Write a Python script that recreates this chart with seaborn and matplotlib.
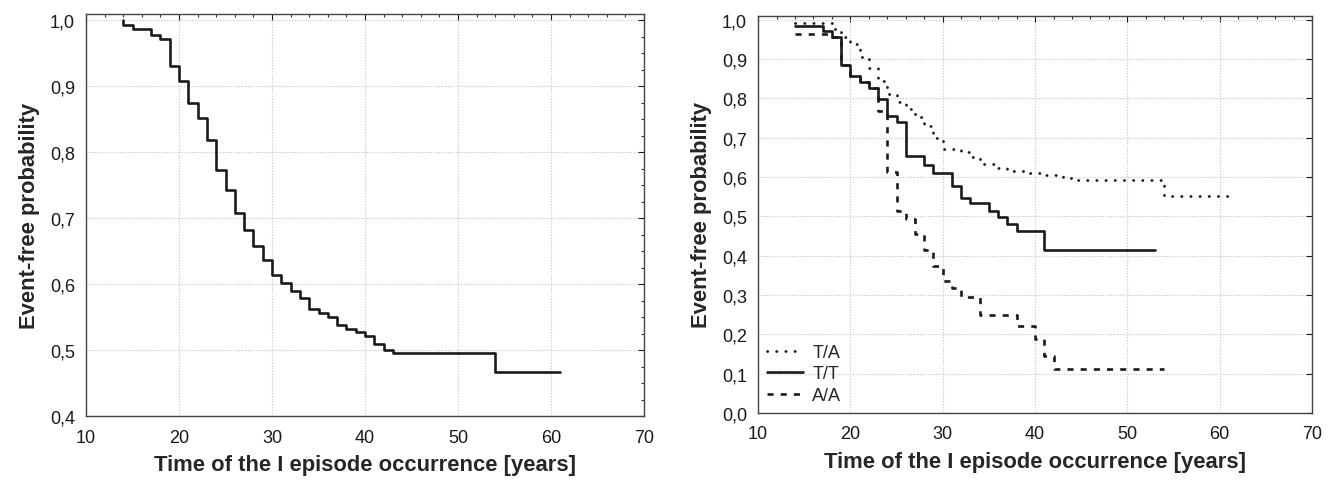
import numpy as np
import pandas as pd
import seaborn as sns
import matplotlib.pyplot as plt
from matplotlib.ticker import MultipleLocator, FuncFormatter

sns.set_theme(style="white")
plt.rcParams['font.family'] = ['Liberation Sans', 'DejaVu Sans']

# ---- data ----
# left panel: whole group
all_time = [14, 14, 15, 17, 18, 19, 20, 21, 22, 23, 24, 25, 26, 27, 28, 29, 30,
            31, 32, 33, 34, 35, 36, 37, 38, 39, 40, 41, 42, 43, 54, 61]
all_surv = [1.0, 0.993, 0.987, 0.978, 0.972, 0.931, 0.908, 0.875, 0.852, 0.819,
            0.773, 0.743, 0.708, 0.683, 0.658, 0.637, 0.614, 0.602, 0.590, 0.579,
            0.563, 0.556, 0.550, 0.539, 0.533, 0.528, 0.522, 0.510, 0.500, 0.496,
            0.467, 0.467]

# right panel: by genotype
ta_time = [14, 18, 19, 20, 21, 22, 23, 24, 25, 26, 27, 28, 29, 30, 32, 33, 34,
           36, 37, 39, 41, 43, 44, 54, 61]
ta_surv = [0.992, 0.976, 0.955, 0.938, 0.905, 0.876, 0.845, 0.811, 0.790, 0.773,
           0.752, 0.730, 0.700, 0.671, 0.664, 0.650, 0.632, 0.624, 0.616, 0.610,
           0.605, 0.597, 0.592, 0.552, 0.552]

tt_time = [14, 17, 18, 19, 20, 21, 22, 23, 24, 25, 26, 28, 29, 31, 32, 33, 35,
           36, 37, 38, 41, 53]
tt_surv = [0.985, 0.972, 0.957, 0.884, 0.856, 0.842, 0.826, 0.798, 0.755, 0.739,
           0.654, 0.630, 0.609, 0.578, 0.547, 0.533, 0.514, 0.497, 0.481, 0.462,
           0.415, 0.415]

aa_time = [14, 18, 19, 20, 21, 22, 23, 24, 25, 26, 27, 28, 29, 30, 31, 32, 34,
           38, 40, 41, 42, 54]
aa_surv = [0.964, 0.957, 0.884, 0.856, 0.842, 0.826, 0.768, 0.612, 0.514, 0.493,
           0.455, 0.415, 0.374, 0.336, 0.317, 0.296, 0.249, 0.220, 0.187, 0.145,
           0.113, 0.113]

xticks = [10, 20, 30, 40, 50, 60, 70]
xlabel = "Time of the I episode occurrence [years]"
ylabel = "Event-free probability"

comma = FuncFormatter(lambda v, p: f"{v:.1f}".replace(".", ","))


def style_axes(ax, ylo, yminor):
    ax.set_xlim(10, 70)
    ax.set_ylim(ylo, 1.01)
    ax.set_xticks(xticks)
    ax.yaxis.set_major_locator(MultipleLocator(0.1))
    ax.yaxis.set_major_formatter(comma)
    ax.xaxis.set_minor_locator(MultipleLocator(2))
    if yminor:
        ax.yaxis.set_minor_locator(MultipleLocator(yminor))
    ax.tick_params(which="both", direction="in", top=True, right=True,
                   color="#333333", width=0.8)
    ax.tick_params(which="major", length=4, labelsize=13, colors="#1a1a1a")
    ax.tick_params(axis="x", which="major", pad=9)
    ax.tick_params(axis="y", which="major", pad=8)
    ax.tick_params(which="minor", length=2.5)
    ax.grid(True, which="major", linestyle=(0, (1, 1.5)), color="#c4c4c4", linewidth=0.8)
    for s in ax.spines.values():
        s.set_color("#444444")
        s.set_linewidth(1.0)
    ax.set_xlabel(xlabel, fontsize=15.8, fontweight="bold", labelpad=6)
    ax.set_ylabel(ylabel, fontsize=15.8, fontweight="bold", labelpad=7)


fig = plt.figure(figsize=(13.36, 4.81), dpi=100)
ax1 = fig.add_axes([0.0644, 0.1324, 0.4177, 0.837])
ax2 = fig.add_axes([0.5674, 0.1393, 0.4147, 0.826])

sns.lineplot(x=all_time, y=all_surv, ax=ax1, color="#1a1a1a", linewidth=1.9,
             drawstyle="steps-post", estimator=None, sort=False)
style_axes(ax1, 0.4, 0.025)

sns.lineplot(x=ta_time, y=ta_surv, ax=ax2, color="#1a1a1a", linewidth=2.0,
             drawstyle="steps-post", estimator=None, sort=False,
             linestyle=(0, (0.1, 3.2)), dash_capstyle="round", label="T/A")
sns.lineplot(x=tt_time, y=tt_surv, ax=ax2, color="#1a1a1a", linewidth=1.9,
             drawstyle="steps-post", estimator=None, sort=False, label="T/T")
sns.lineplot(x=aa_time, y=aa_surv, ax=ax2, color="#1a1a1a", linewidth=1.9,
             drawstyle="steps-post", estimator=None, sort=False,
             linestyle=(0, (2.3, 2.7)), label="A/A")
style_axes(ax2, 0.0, None)

ax2.legend(loc="lower left", frameon=False, fontsize=13, handlelength=2.0,
           handletextpad=0.5, labelspacing=0.25, borderaxespad=0.3, borderpad=0.2)

fig.savefig("out.png", dpi=100)
